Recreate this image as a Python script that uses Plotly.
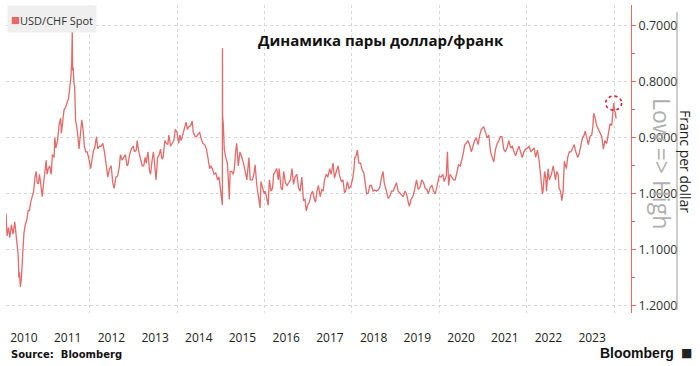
import plotly.graph_objects as go

# ---------------- data ----------------
dates = [
"2010-02-01","2010-02-10","2010-02-22","2010-03-05","2010-03-18","2010-04-01","2010-04-15","2010-04-26",
"2010-05-07","2010-05-14","2010-05-20","2010-05-25","2010-06-01","2010-06-10","2010-06-20","2010-07-01",
"2010-07-12","2010-07-26","2010-08-05","2010-08-16","2010-08-26","2010-09-06","2010-09-20","2010-10-01",
"2010-10-12","2010-10-19","2010-10-29","2010-11-08","2010-11-22","2010-12-01","2010-12-10","2010-12-24",
"2011-01-03","2011-01-10","2011-01-20","2011-02-01","2011-02-14","2011-02-24","2011-03-10","2011-03-16",
"2011-03-25","2011-04-08","2011-04-22","2011-05-04","2011-05-10","2011-05-24","2011-06-01","2011-06-15",
"2011-06-27","2011-07-08","2011-07-20","2011-07-29","2011-08-04","2011-08-09","2011-08-12","2011-08-17",
"2011-08-22","2011-08-29","2011-09-06","2011-09-15","2011-09-26","2011-10-04","2011-10-13","2011-10-27",
"2011-11-07","2011-11-18","2011-11-29","2011-12-12","2011-12-28","2012-01-09","2012-01-20","2012-02-03",
"2012-02-13","2012-02-27","2012-03-09","2012-03-22","2012-04-05","2012-04-20","2012-05-04","2012-05-18",
"2012-06-01","2012-06-15","2012-06-29","2012-07-12","2012-07-24","2012-08-07","2012-08-22","2012-09-06",
"2012-09-14","2012-09-28","2012-10-12","2012-10-25","2012-11-08","2012-11-16","2012-11-30","2012-12-14",
"2012-12-31","2013-01-10","2013-01-25","2013-02-01","2013-02-15","2013-03-01","2013-03-15","2013-03-28",
"2013-04-09","2013-04-18","2013-05-02","2013-05-16","2013-05-24","2013-06-06","2013-06-17","2013-06-24",
"2013-07-05","2013-07-09","2013-07-22","2013-08-05","2013-08-15","2013-08-28","2013-09-06","2013-09-20",
"2013-10-04","2013-10-15","2013-10-24","2013-11-07","2013-11-20","2013-12-04","2013-12-17","2013-12-31",
"2014-01-14","2014-01-24","2014-02-04","2014-02-20","2014-03-06","2014-03-17","2014-03-28","2014-04-10",
"2014-04-24","2014-05-07","2014-05-16","2014-05-30","2014-06-12","2014-06-25","2014-07-08","2014-07-22",
"2014-08-05","2014-08-20","2014-09-03","2014-09-15","2014-09-30","2014-10-10","2014-10-22","2014-11-06",
"2014-11-20","2014-12-05","2014-12-17","2014-12-31","2015-01-09","2015-01-14","2015-01-15","2015-01-16",
"2015-01-23","2015-01-30","2015-02-11","2015-02-25","2015-03-09","2015-03-13","2015-03-20","2015-04-02",
"2015-04-15","2015-04-24","2015-05-07","2015-05-14","2015-05-27","2015-06-10","2015-06-26","2015-07-10",
"2015-07-24","2015-08-07","2015-08-24","2015-09-04","2015-09-21","2015-10-05","2015-10-15","2015-10-29",
"2015-11-12","2015-11-25","2015-12-03","2015-12-15","2015-12-30","2016-01-07","2016-01-20","2016-02-01",
"2016-02-11","2016-02-25","2016-03-08","2016-03-18","2016-03-31","2016-04-12","2016-04-26","2016-05-03",
"2016-05-19","2016-05-30","2016-06-09","2016-06-24","2016-07-08","2016-07-22","2016-08-05","2016-08-18",
"2016-08-31","2016-09-12","2016-09-28","2016-10-12","2016-10-25","2016-11-08","2016-11-22","2016-12-05",
"2016-12-15","2016-12-30","2017-01-10","2017-01-25","2017-02-06","2017-02-22","2017-03-02","2017-03-15",
"2017-03-27","2017-04-11","2017-04-24","2017-05-05","2017-05-17","2017-06-01","2017-06-14","2017-06-29",
"2017-07-12","2017-07-27","2017-08-08","2017-08-23","2017-09-07","2017-09-20","2017-10-05","2017-10-18",
"2017-10-31","2017-11-10","2017-11-24","2017-12-07","2017-12-20","2018-01-05","2018-01-17","2018-01-25",
"2018-02-02","2018-02-15","2018-02-28","2018-03-14","2018-03-28","2018-04-10","2018-04-24","2018-05-04",
"2018-05-18","2018-05-30","2018-06-12","2018-06-27","2018-07-10","2018-07-24","2018-08-06","2018-08-20",
"2018-09-04","2018-09-18","2018-09-28","2018-10-12","2018-10-31","2018-11-13","2018-11-28","2018-12-12",
"2018-12-28","2019-01-08","2019-01-22","2019-02-05","2019-02-20","2019-03-05","2019-03-20","2019-04-02",
"2019-04-17","2019-04-26","2019-05-10","2019-05-24","2019-06-06","2019-06-25","2019-07-09","2019-07-24",
"2019-08-07","2019-08-23","2019-09-05","2019-09-20","2019-10-01","2019-10-18","2019-11-01","2019-11-14",
"2019-11-29","2019-12-12","2019-12-31","2020-01-14","2020-01-30","2020-02-11","2020-02-28","2020-03-09",
"2020-03-13","2020-03-19","2020-03-31","2020-04-14","2020-04-29","2020-05-13","2020-05-28","2020-06-10",
"2020-06-25","2020-07-08","2020-07-22","2020-07-31","2020-08-12","2020-08-28","2020-09-10","2020-09-25",
"2020-10-08","2020-10-22","2020-11-06","2020-11-20","2020-12-04","2020-12-17","2021-01-06","2021-01-20",
"2021-02-04","2021-02-18","2021-03-04","2021-03-31","2021-04-15","2021-04-29","2021-05-13","2021-05-25",
"2021-06-08","2021-06-22","2021-07-06","2021-07-20","2021-08-04","2021-08-19","2021-09-02","2021-09-16",
"2021-09-30","2021-10-14","2021-10-28","2021-11-10","2021-11-24","2021-12-08","2021-12-22","2022-01-07",
"2022-01-21","2022-02-04","2022-02-18","2022-03-04","2022-03-16","2022-03-31","2022-04-14","2022-04-28",
"2022-05-12","2022-05-17","2022-05-30","2022-06-08","2022-06-15","2022-06-28","2022-07-08","2022-07-26",
"2022-08-10","2022-08-29","2022-09-08","2022-09-20","2022-09-28","2022-10-10","2022-10-21","2022-11-01",
"2022-11-11","2022-11-28","2022-12-09","2022-12-22","2023-01-06","2023-01-20","2023-02-01","2023-02-15",
"2023-03-03","2023-03-15","2023-03-28","2023-04-12","2023-04-26","2023-05-04","2023-05-18","2023-05-31",
"2023-06-14","2023-06-28","2023-07-07","2023-07-14","2023-07-27","2023-08-10","2023-08-24","2023-09-07",
"2023-09-20","2023-10-03","2023-10-16","2023-10-31","2023-11-14","2023-11-28","2023-12-12","2023-12-28",
"2024-01-05","2024-01-12","2024-01-17",
]

usdchf = [
1.035,1.075,1.060,1.078,1.055,1.072,1.050,1.078,
1.105,1.110,1.150,1.140,1.166,1.150,1.110,1.070,
1.055,1.045,1.030,1.030,1.015,1.005,0.995,0.970,
0.960,0.980,0.982,0.965,0.995,1.005,0.985,0.955,
0.940,0.965,0.955,0.950,0.965,0.930,0.935,0.900,
0.918,0.905,0.875,0.865,0.892,0.865,0.850,0.845,
0.838,0.830,0.808,0.790,0.765,0.708,0.780,0.775,
0.800,0.810,0.870,0.880,0.900,0.920,0.900,0.868,
0.885,0.915,0.925,0.925,0.940,0.955,0.940,0.922,
0.918,0.898,0.920,0.915,0.915,0.910,0.925,0.950,
0.970,0.955,0.950,0.980,0.990,0.970,0.968,0.950,
0.930,0.940,0.935,0.930,0.950,0.948,0.930,0.920,
0.915,0.925,0.922,0.905,0.925,0.940,0.950,0.950,
0.935,0.945,0.925,0.960,0.965,0.940,0.925,0.940,
0.962,0.975,0.935,0.930,0.920,0.938,0.935,0.905,
0.910,0.912,0.895,0.915,0.910,0.905,0.885,0.890,
0.910,0.895,0.905,0.890,0.882,0.872,0.885,0.880,
0.878,0.870,0.890,0.897,0.898,0.893,0.890,0.902,
0.910,0.912,0.920,0.935,0.955,0.950,0.955,0.965,
0.962,0.975,0.970,0.995,1.010,1.020,0.740,0.860,
0.880,0.920,0.935,0.945,0.990,1.010,0.960,0.960,
0.965,0.955,0.920,0.910,0.950,0.925,0.935,0.945,
0.960,0.975,0.935,0.975,0.975,0.965,0.948,0.985,
1.005,1.025,0.978,0.990,1.000,0.995,1.010,1.020,
0.975,0.995,0.990,0.965,0.960,0.955,0.975,0.955,
0.990,0.993,0.960,0.980,0.985,0.980,0.975,0.955,
0.983,0.970,0.965,0.990,0.995,0.970,1.012,1.010,
1.030,1.018,1.015,1.000,0.995,1.010,1.015,0.995,
0.985,1.005,0.993,0.995,0.975,0.965,0.970,0.955,
0.965,0.945,0.972,0.960,0.950,0.968,0.978,0.975,
0.998,0.995,0.978,0.990,0.988,0.975,0.958,0.935,
0.935,0.922,0.945,0.945,0.958,0.962,0.985,1.000,
0.998,0.985,0.985,0.995,0.993,0.995,0.993,0.990,
0.972,0.960,0.980,0.990,1.008,1.005,0.995,0.995,
0.985,0.980,0.995,0.998,1.003,1.005,0.995,1.000,
1.015,1.022,1.010,1.005,0.995,0.975,0.992,0.988,
0.975,0.980,0.990,0.992,1.000,0.988,0.985,0.995,
1.000,0.985,0.968,0.970,0.965,0.978,0.968,0.925,
0.950,0.985,0.965,0.970,0.975,0.975,0.962,0.948,
0.950,0.940,0.925,0.912,0.910,0.905,0.912,0.925,
0.915,0.905,0.900,0.912,0.895,0.885,0.880,0.888,
0.900,0.895,0.925,0.943,0.920,0.910,0.905,0.898,
0.898,0.920,0.925,0.918,0.905,0.918,0.915,0.925,
0.932,0.922,0.915,0.925,0.935,0.925,0.920,0.918,
0.915,0.925,0.922,0.918,0.935,0.922,0.940,0.970,
1.000,0.995,0.960,0.970,0.995,0.955,0.975,0.965,
0.950,0.975,0.960,0.965,0.990,0.995,1.012,0.995,
0.942,0.955,0.935,0.925,0.925,0.918,0.912,0.925,
0.935,0.928,0.915,0.900,0.895,0.888,0.900,0.912,
0.897,0.895,0.880,0.856,0.865,0.880,0.885,0.893,
0.898,0.920,0.905,0.910,0.890,0.875,0.878,0.838,
0.852,0.855,0.866,
]

years = list(range(2010, 2024))
year_labels = [str(y) for y in years]
grid_years = [2012, 2014, 2016, 2018, 2020, 2022, 2024]
y_ticks = [0.7, 0.8, 0.9, 1.0, 1.1, 1.2]
y_ticklabels = ["0.7000", "0.8000", "0.9000", "1.0000", "1.1000", "1.2000"]

series_name = "USD/CHF Spot"
title_text = "Динамика пары доллар/франк"

LINE = "#e66a6a"
FONT = "Open Sans"

fig = go.Figure()
fig.add_trace(go.Scatter(
    x=dates, y=usdchf, mode="lines", name=series_name,
    line=dict(color=LINE, width=1.3), showlegend=False,
))

# mark the latest low with a dashed circle (anchored on data)
recent = [(d, v) for d, v in zip(dates, usdchf) if d >= "2023-06-01"]
low_date, low_val = min(recent, key=lambda t: t[1])
fig.add_shape(type="circle", xref="x", yref="y",
              xsizemode="pixel", ysizemode="pixel",
              xanchor=low_date, yanchor=low_val,
              x0=-8, x1=8, y0=-7, y1=7,
              line=dict(color="#d8203f", width=1.6, dash="dot"))

fig.update_layout(
    width=700, height=366, autosize=False,
    margin=dict(l=6, r=69, t=5, b=53),
    paper_bgcolor="white", plot_bgcolor="white",
    font=dict(family=FONT, color="#333", size=12),
    showlegend=False,
    xaxis=dict(
        type="date",
        range=["2010-02-01", "2024-05-21"],
        tickmode="array",
        tickvals=[f"{y}-07-01" for y in years],
        ticktext=year_labels,
        ticks="outside", ticklen=14, tickcolor="rgba(0,0,0,0)",
        tickfont=dict(size=12, color="#222"),
        showgrid=False, showline=False, zeroline=False,
        minor=dict(tickmode="array", tickvals=[f"{y}-01-01" for y in grid_years],
                   showgrid=True, gridcolor="#d6d6d6", griddash="dot", gridwidth=1,
                   ticks=""),
    ),
    yaxis=dict(
        side="right",
        range=[1.2125, 0.663],
        tickmode="array", tickvals=y_ticks, ticktext=y_ticklabels,
        ticks="outside", ticklen=4, tickcolor=LINE, tickwidth=1,
        tickfont=dict(size=12.5, color="#333"),
        showline=True, linecolor=LINE, linewidth=1,
        showgrid=True, gridcolor="#d6d6d6", griddash="dot", gridwidth=1,
        zeroline=False,
        minor=dict(dtick=0.05, tick0=0.65, ticks="outside", ticklen=3,
                   tickcolor=LINE, showgrid=False),
    ),
)

W, H, L, B = 625.0, 308.0, 6.0, 313.0
def px(x):
    return (x - L) / W
def py(y):
    return (B - y) / H

# legend box (drawn as text)
fig.add_annotation(xref="paper", yref="paper", x=px(7), y=py(5),
                   xanchor="left", yanchor="top", showarrow=False,
                   text=f"<span style='color:{LINE};font-size:15px'>■</span>{series_name}",
                   font=dict(family=FONT, size=11, color="#333"),
                   bgcolor="#efefef", borderpad=3)

# title
fig.add_annotation(xref="paper", yref="paper", x=px(380.5), y=py(40),
                   xanchor="center", yanchor="middle", showarrow=False,
                   text=f"<b>{title_text}</b>",
                   font=dict(family=FONT, size=15, color="#111"))

# Low => High
fig.add_annotation(xref="paper", yref="paper", x=px(662), y=py(163),
                   xanchor="center", yanchor="middle", showarrow=False,
                   text="Low => High", textangle=90,
                   font=dict(family=FONT, size=23, color="#b0b0b0"))

# Franc per dollar
fig.add_annotation(xref="paper", yref="paper", x=px(686), y=py(161),
                   xanchor="center", yanchor="middle", showarrow=False,
                   text="Franc per dollar", textangle=90,
                   font=dict(family=FONT, size=14, color="#222"))

# grey separator line
fig.add_shape(type="line", xref="paper", yref="paper",
              x0=px(677), x1=px(677), y0=py(12), y1=py(310),
              line=dict(color="#9a9a9a", width=1))

# source & logo
fig.add_annotation(xref="paper", yref="paper", x=px(9), y=py(354),
                   xanchor="left", yanchor="middle", showarrow=False,
                   text="<b>Source:  Bloomberg</b>",
                   font=dict(family="DejaVu Sans", size=10, color="#111"))
fig.add_annotation(xref="paper", yref="paper", x=px(676), y=py(353),
                   xanchor="right", yanchor="middle", showarrow=False,
                   text="<b>Bloomberg</b>",
                   font=dict(family="Liberation Sans", size=14, color="#111"))
fig.add_annotation(xref="paper", yref="paper", x=px(686), y=py(353),
                   xanchor="center", yanchor="middle", showarrow=False,
                   text="■",
                   font=dict(family="DejaVu Sans", size=12, color="#222"))

fig.write_html("out.html", config={"displayModeBar": False},
               post_script="document.body.style.margin='0';")
